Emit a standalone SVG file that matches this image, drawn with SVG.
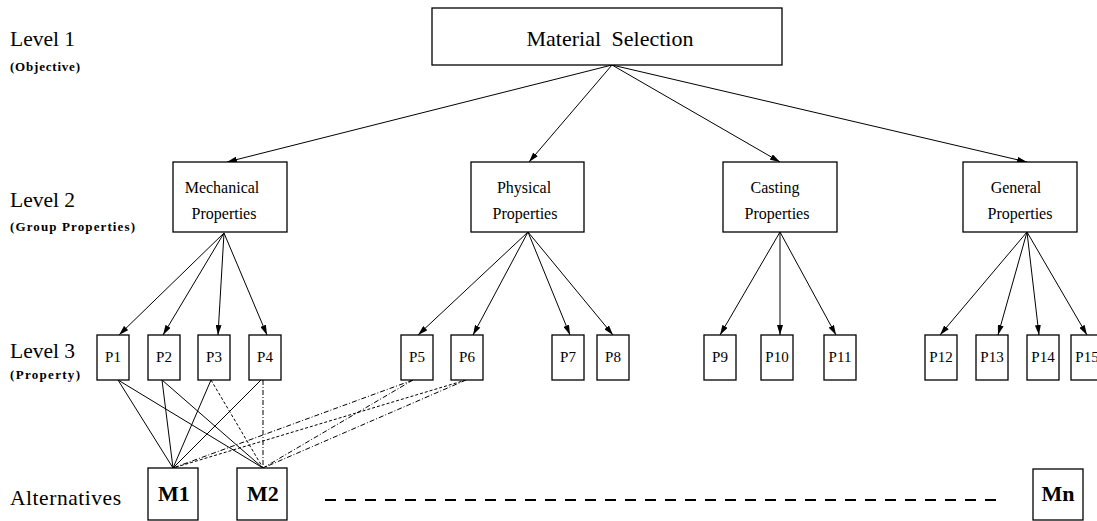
<svg xmlns="http://www.w3.org/2000/svg" width="1097" height="521" viewBox="0 0 1097 521">
<defs>
<marker id="ah" viewBox="0 0 10 6" refX="10" refY="3" markerWidth="10" markerHeight="6" markerUnits="userSpaceOnUse" orient="auto">
<path d="M0,0 L10,3 L0,6 Z" fill="#000"/>
</marker>
<style>
rect{fill:#fff;stroke:#000;stroke-width:1.3}
text{font-family:"Liberation Serif","DejaVu Serif",serif;fill:#000}
.lvl{font-size:21.5px}
.sub{font-size:13px;font-weight:bold}
.grp{font-size:16px;text-anchor:middle}
.p{font-size:15px;text-anchor:middle}
.m{font-size:22px;font-weight:bold;text-anchor:middle}
.ar{stroke:#000;stroke-width:1;fill:none;marker-end:url(#ah)}
.ln{stroke:#000;stroke-width:1;fill:none}
.dd{stroke:#000;stroke-width:1;fill:none;stroke-dasharray:5 2 1 2}
.dt{stroke:#000;stroke-width:1;fill:none;stroke-dasharray:3 2}
</style>
</defs>
<g id="labels">
<text class="lvl" x="10" y="46">Level 1</text>
<text class="sub" x="10" y="71" textLength="70">(Objective)</text>
<text class="lvl" x="10" y="207">Level 2</text>
<text class="sub" x="10" y="231" textLength="125">(Group Properties)</text>
<text class="lvl" x="10" y="358">Level 3</text>
<text class="sub" x="10" y="379" textLength="70">(Property)</text>
<text class="lvl" x="10" y="505" textLength="111">Alternatives</text>
</g>
<g id="connectors">
<line class="ar" x1="612" y1="65" x2="227" y2="162"/>
<line class="ar" x1="612" y1="65" x2="529" y2="162"/>
<line class="ar" x1="612" y1="65" x2="780" y2="162"/>
<line class="ar" x1="612" y1="65" x2="1027" y2="162"/>
<line class="ar" x1="224" y1="233" x2="119" y2="335"/>
<line class="ar" x1="224" y1="233" x2="163" y2="335"/>
<line class="ar" x1="224" y1="233" x2="218" y2="335"/>
<line class="ar" x1="224" y1="233" x2="267" y2="335"/>
<line class="ar" x1="528" y1="232" x2="418" y2="335"/>
<line class="ar" x1="528" y1="232" x2="473" y2="335"/>
<line class="ar" x1="528" y1="232" x2="570" y2="335"/>
<line class="ar" x1="528" y1="232" x2="613" y2="335"/>
<line class="ar" x1="780" y1="232" x2="720" y2="335"/>
<line class="ar" x1="780" y1="232" x2="780" y2="335"/>
<line class="ar" x1="780" y1="232" x2="836" y2="335"/>
<line class="ar" x1="1027" y1="232" x2="940" y2="335"/>
<line class="ar" x1="1027" y1="232" x2="998" y2="335"/>
<line class="ar" x1="1027" y1="232" x2="1039" y2="335"/>
<line class="ar" x1="1027" y1="232" x2="1087" y2="335"/>
<line class="ln" x1="118" y1="380" x2="173" y2="468"/>
<line class="ln" x1="118" y1="380" x2="263" y2="468"/>
<line class="ln" x1="162" y1="380" x2="173" y2="468"/>
<line class="ln" x1="162" y1="380" x2="263" y2="468"/>
<line class="ln" x1="211" y1="380" x2="173" y2="468"/>
<line class="dt" x1="211" y1="380" x2="263" y2="468"/>
<line class="ln" x1="261" y1="380" x2="173" y2="468"/>
<line class="dd" x1="263" y1="380" x2="263" y2="468"/>
<line class="dd" x1="413" y1="380" x2="173" y2="468"/>
<line class="dd" x1="413" y1="380" x2="263" y2="468"/>
<line class="dt" x1="466" y1="380" x2="173" y2="468"/>
<line class="dd" x1="466" y1="380" x2="263" y2="468"/>
<line x1="325" y1="500" x2="1003" y2="500" stroke="#000" stroke-width="2" stroke-dasharray="11 9"/>
</g>
<g id="n-material"><rect x="432" y="8" width="350" height="57"/><text x="610" y="46" style="font-size:22px;text-anchor:middle;word-spacing:5px">Material Selection</text></g>
<g id="n-mech"><rect x="173" y="162" width="114" height="70"/><text class="grp" x="222" y="193">Mechanical</text><text class="grp" x="224" y="219">Properties</text></g>
<g id="n-phys"><rect x="471" y="162" width="113" height="70"/><text class="grp" x="524" y="193">Physical</text><text class="grp" x="525" y="219">Properties</text></g>
<g id="n-cast"><rect x="723" y="162" width="114" height="70"/><text class="grp" x="775" y="193">Casting</text><text class="grp" x="777" y="219">Properties</text></g>
<g id="n-gen"><rect x="963" y="162" width="114" height="70"/><text class="grp" x="1016" y="193">General</text><text class="grp" x="1020" y="219">Properties</text></g>
<g id="n-p1"><rect x="97" y="335" width="32" height="45"/><text class="p" x="113" y="362">P1</text></g>
<g id="n-p2"><rect x="148" y="335" width="32" height="45"/><text class="p" x="164" y="362">P2</text></g>
<g id="n-p3"><rect x="198" y="335" width="32" height="45"/><text class="p" x="214" y="362">P3</text></g>
<g id="n-p4"><rect x="249" y="335" width="32" height="45"/><text class="p" x="265" y="362">P4</text></g>
<g id="n-p5"><rect x="401" y="335" width="32" height="45"/><text class="p" x="417" y="362">P5</text></g>
<g id="n-p6"><rect x="451" y="335" width="32" height="45"/><text class="p" x="467" y="362">P6</text></g>
<g id="n-p7"><rect x="552" y="335" width="32" height="45"/><text class="p" x="568" y="362">P7</text></g>
<g id="n-p8"><rect x="597" y="335" width="32" height="45"/><text class="p" x="613" y="362">P8</text></g>
<g id="n-p9"><rect x="704" y="335" width="32" height="45"/><text class="p" x="720" y="362">P9</text></g>
<g id="n-p10"><rect x="761" y="335" width="32" height="45"/><text class="p" x="777" y="362">P10</text></g>
<g id="n-p11"><rect x="824" y="335" width="32" height="45"/><text class="p" x="840" y="362">P11</text></g>
<g id="n-p12"><rect x="925" y="335" width="32" height="45"/><text class="p" x="941" y="362">P12</text></g>
<g id="n-p13"><rect x="976" y="335" width="32" height="45"/><text class="p" x="992" y="362">P13</text></g>
<g id="n-p14"><rect x="1027" y="335" width="32" height="45"/><text class="p" x="1043" y="362">P14</text></g>
<g id="n-p15"><rect x="1071" y="335" width="32" height="45"/><text class="p" x="1087" y="362">P15</text></g>
<g id="n-m1"><rect x="148" y="468" width="50" height="52"/><text class="m" x="174" y="501">M1</text></g>
<g id="n-m2"><rect x="237" y="468" width="50" height="52"/><text class="m" x="263" y="501">M2</text></g>
<g id="n-mn"><rect x="1033" y="469" width="50" height="51"/><text class="m" x="1058" y="501">Mn</text></g>
</svg>
